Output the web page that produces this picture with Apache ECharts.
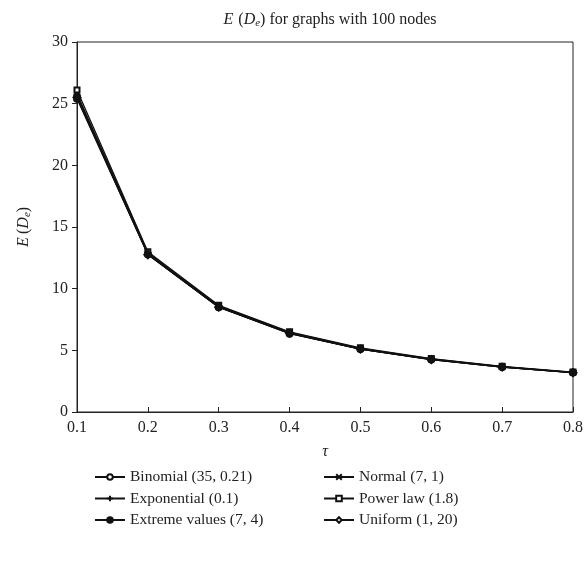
<!DOCTYPE html>
<html><head><meta charset="utf-8">
<script src="https://cdn.jsdelivr.net/npm/echarts@6/dist/echarts.min.js"></script>
<style>html,body{margin:0;padding:0;background:#fff}#c{width:586px;height:564px}</style>
</head><body><div id="c"></div>
<script>
const categories = ['0.1','0.2','0.3','0.4','0.5','0.6','0.7','0.8'];
const seriesNames = ['Binomial (35, 0.21)','Exponential (0.1)','Extreme values (7, 4)','Normal (7, 1)','Power law (1.8)','Uniform (1, 20)'];
const binomial    = [25.4, 12.8, 8.5, 6.35, 5.1, 4.25, 3.65, 3.2];
const exponential = [25.7, 12.9, 8.55, 6.4, 5.12, 4.27, 3.66, 3.2];
const extreme     = [25.6, 12.8, 8.5, 6.4, 5.1, 4.26, 3.65, 3.2];
const normal      = [25.8, 12.9, 8.6, 6.45, 5.15, 4.3, 3.68, 3.22];
const powerlaw    = [26.1, 13.0, 8.65, 6.5, 5.2, 4.33, 3.7, 3.24];
const uniform     = [25.5, 12.75, 8.5, 6.38, 5.1, 4.25, 3.64, 3.19];
const yTicks = [0, 5, 10, 15, 20, 25, 30];

const FONT = '"Liberation Serif", "DejaVu Serif", serif';
const symbols = ['emptyCircle','path://M0,5L10,5M5,0L5,10','circle','path://M0,0L10,10M10,0L0,10','emptyRect','emptyDiamond'];
const sizes = [6, 7, 7, 5, 5, 7];
const datas = [binomial, exponential, extreme, normal, powerlaw, uniform];

const series = datas.map((d, i) => ({
  name: seriesNames[i],
  type: 'line',
  data: d,
  symbol: symbols[i],
  symbolSize: sizes[i],
  showAllSymbol: true,
  z: i === 2 ? 5 : 2,
  lineStyle: {color: '#111', width: 1.3},
  itemStyle: {color: '#111', borderColor: '#111', borderWidth: 1},
  emphasis: {disabled: true},
  animation: false
}));

const rich = {
  i: {fontFamily: FONT, fontStyle: 'italic', fontWeight: 'normal', fontSize: 16, color: '#222'},
  n: {fontFamily: FONT, fontWeight: 'normal', fontSize: 16, color: '#222'},
  s: {fontFamily: FONT, fontStyle: 'italic', fontWeight: 'normal', fontSize: 11, color: '#222', verticalAlign: 'bottom', padding: [8, 0, 0, 0]}
};

const legendCommon = {
  orient: 'vertical',
  itemWidth: 30,
  itemHeight: 7,
  itemGap: 5.5,
  textStyle: {fontFamily: FONT, fontSize: 15.5, color: '#222', lineHeight: 15},
  selectedMode: false
};

const chart = echarts.init(document.getElementById('c'), null, {renderer: 'canvas'});
chart.setOption({
  backgroundColor: '#fff',
  animation: false,
  title: {
    text: '{i|E} {n|(}{i|D}{s|e}{n|) for graphs with 100 nodes}',
    left: 325, top: 5, textAlign: 'center',
    textStyle: {fontWeight: 'normal', rich: rich}
  },
  legend: [
    Object.assign({}, legendCommon, {left: 89, top: 464, data: seriesNames.slice(0, 3)}),
    Object.assign({}, legendCommon, {left: 318, top: 464, data: seriesNames.slice(3)})
  ],
  grid: {left: 77, right: 13, top: 42, bottom: 152, show: true, borderColor: '#222', borderWidth: 1, backgroundColor: 'transparent'},
  xAxis: {
    type: 'category', data: categories, boundaryGap: false,
    name: 'τ', nameLocation: 'middle', nameGap: 32,
    nameTextStyle: {fontFamily: FONT, fontStyle: 'italic', fontSize: 16, color: '#222'},
    axisLine: {lineStyle: {color: '#222', width: 1}},
    axisTick: {inside: true, length: 5, lineStyle: {color: '#222'}},
    axisLabel: {fontFamily: FONT, fontSize: 16, color: '#222', margin: 8},
    splitLine: {show: false}
  },
  yAxis: {
    type: 'value', min: 0, max: 30, interval: 5,
    name: '{i|E} {n|(}{i|D}{s|e}{n|)}', nameLocation: 'middle', nameGap: 44, nameRotate: 90,
    nameTextStyle: {fontWeight: 'normal', rich: rich},
    axisLine: {show: true, lineStyle: {color: '#222', width: 1}},
    axisTick: {show: true, inside: false, length: 5, lineStyle: {color: '#222'}},
    axisLabel: {fontFamily: FONT, fontSize: 16, color: '#222', margin: 9,
      formatter: v => yTicks.includes(v) ? String(v) : ''},
    splitLine: {show: false}
  },
  series: series
});
</script></body></html>
